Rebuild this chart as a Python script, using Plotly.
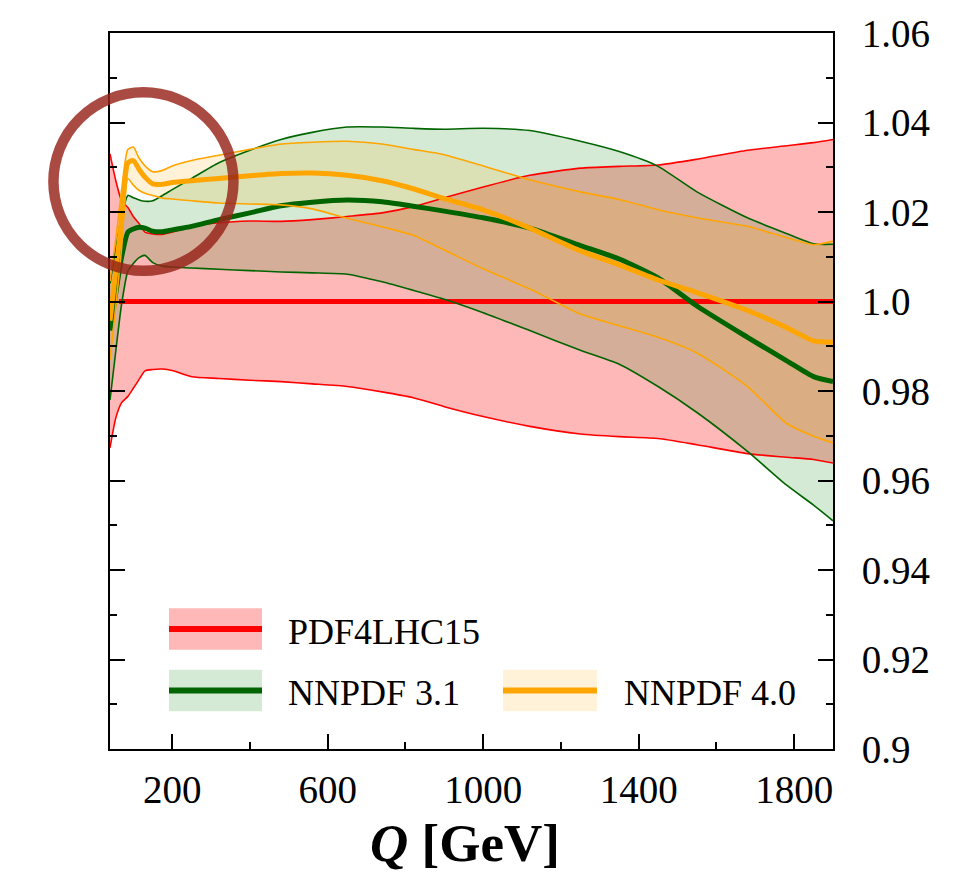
import plotly.graph_objects as go

# ---------------- data ----------------
Q = [40, 55, 70, 86, 100, 115, 130, 150, 175, 200, 250, 320, 400, 480, 560,
     650, 740, 820, 900, 1000, 1120, 1250, 1350, 1450, 1550, 1680, 1780, 1850, 1900]

pdf4lhc_up = [1.033, 1.027, 1.0225, 1.021, 1.019, 1.0174, 1.0155, 1.0151, 1.015, 1.0155,
              1.0167, 1.0176, 1.018, 1.0179, 1.0183, 1.019, 1.0198, 1.0212, 1.0232, 1.0256,
              1.0282, 1.0298, 1.0302, 1.0305, 1.0318, 1.0338, 1.0348, 1.0355, 1.0362]
pdf4lhc_lo = [0.9673, 0.974, 0.9774, 0.9788, 0.9806, 0.9826, 0.9845, 0.9848, 0.9849, 0.9846,
              0.9832, 0.9828, 0.9824, 0.9821, 0.9816, 0.981, 0.9798, 0.9785, 0.9765, 0.9743,
              0.9721, 0.9704, 0.9698, 0.9694, 0.968, 0.966, 0.9652, 0.9647, 0.9639]
pdf4lhc_mid_q = [63, 1900]
pdf4lhc_mid = [1.0, 1.0]

nn31_up = [1.004, 1.012, 1.019, 1.0237, 1.0232, 1.0227, 1.0224, 1.0225, 1.0237, 1.025,
           1.0275, 1.031, 1.0338, 1.0362, 1.0378, 1.039, 1.039, 1.0387, 1.0385, 1.0387,
           1.0382, 1.0358, 1.0335, 1.0302, 1.0245, 1.0187, 1.0152, 1.0129, 1.0128]
nn31_mid = [0.9935, 1.002, 1.01, 1.0155, 1.0162, 1.0166, 1.0164, 1.0157, 1.0156, 1.016,
            1.0168, 1.0183, 1.0198, 1.0214, 1.0222, 1.0227, 1.0223, 1.0213, 1.0202, 1.0187,
            1.0164, 1.0125, 1.0095, 1.0053, 0.999, 0.992, 0.9868, 0.9832, 0.9821]
nn31_lo = [0.978, 0.989, 0.9995, 1.0068, 1.0085, 1.0098, 1.0103, 1.0087, 1.0079, 1.0077,
           1.0075, 1.0072, 1.0069, 1.0066, 1.0064, 1.0061, 1.0044, 1.0025, 1.0005, 0.9975,
           0.9935, 0.9891, 0.986, 0.981, 0.9752, 0.9665, 0.959, 0.9545, 0.951]

nn40_up = [1.0046, 1.014, 1.025, 1.034, 1.0345, 1.032, 1.0303, 1.029, 1.0293, 1.0303,
           1.0315, 1.0327, 1.034, 1.0352, 1.0356, 1.0358, 1.0352, 1.034, 1.0328, 1.0303,
           1.0272, 1.0245, 1.0228, 1.0205, 1.0187, 1.0168, 1.0143, 1.0127, 1.0135]
nn40_mid = [0.9957, 1.0067, 1.0185, 1.031, 1.0315, 1.0295, 1.0278, 1.0263, 1.0262, 1.0266,
            1.027, 1.0275, 1.0281, 1.0286, 1.0287, 1.0282, 1.027, 1.0252, 1.023, 1.0205,
            1.0164, 1.0113, 1.0082, 1.0048, 1.002, 0.998, 0.9942, 0.9912, 0.9909]
nn40_lo = [0.987, 0.999, 1.012, 1.0275, 1.026, 1.0248, 1.0242, 1.0237, 1.0231, 1.0229,
           1.0225, 1.022, 1.0218, 1.0216, 1.0207, 1.0186, 1.0167, 1.0148, 1.0115, 1.0073,
           1.0028, 0.9972, 0.9946, 0.992, 0.9885, 0.981, 0.9728, 0.9699, 0.9684]

series_names = ["PDF4LHC15", "NNPDF 3.1", "NNPDF 4.0"]
x_tickvals = [200, 600, 1000, 1400, 1800]
x_minor = [400, 800, 1200, 1600]
y_tickvals = [0.9, 0.92, 0.94, 0.96, 0.98, 1.0, 1.02, 1.04, 1.06]
y_ticktext = ["0.9", "0.92", "0.94", "0.96", "0.98", "1.0", "1.02", "1.04", "1.06"]
highlight_q, highlight_r = 126, 1.0268

# ---------------- styling ----------------
W, H = 958, 879
ML, MR, MT, MB = 110, 125, 27, 130
PW, PH = W - ML - MR, H - MT - MB
X_RANGE = [40, 1900]
Y_RANGE = [0.9, 1.06]
FONT = "Liberation Serif"

line_cols = ["#ff0000", "#006400", "#ffa500"]
fill_cols = ["rgba(255,0,0,0.28)", "rgba(0,128,0,0.165)", "rgba(255,165,0,0.15)"]
SM = 0.6

def px_x(px):
    return (px - ML) / PW

def px_y(py):
    return (H - MB - py) / PH

def data_to_px(q, r):
    px = ML + (q - X_RANGE[0]) / (X_RANGE[1] - X_RANGE[0]) * PW
    py = MT + (Y_RANGE[1] - r) / (Y_RANGE[1] - Y_RANGE[0]) * PH
    return px, py

fig = go.Figure()

bands = [(pdf4lhc_lo, pdf4lhc_up), (nn31_lo, nn31_up), (nn40_lo, nn40_up)]
for (lo, up), fc in zip(bands, fill_cols):
    fig.add_trace(go.Scatter(x=Q, y=lo, mode="lines", showlegend=False, hoverinfo="skip",
                             line=dict(width=0, shape="spline", smoothing=SM)))
    fig.add_trace(go.Scatter(x=Q, y=up, mode="lines", showlegend=False, hoverinfo="skip",
                             fill="tonexty", fillcolor=fc,
                             line=dict(width=0, shape="spline", smoothing=SM)))

mids = [(pdf4lhc_mid_q, pdf4lhc_mid), (Q, nn31_mid), (Q, nn40_mid)]
for (lo, up), (mq, mv), col, name in zip(bands, mids, line_cols, series_names):
    for edge in (lo, up):
        fig.add_trace(go.Scatter(x=Q, y=edge, mode="lines", showlegend=False,
                                 line=dict(color=col, width=1.6, shape="spline", smoothing=SM)))
    fig.add_trace(go.Scatter(x=mq, y=mv, mode="lines", name=name, showlegend=False,
                             line=dict(color=col, width=5, shape="spline", smoothing=SM)))

shapes = []
annotations = []
# custom legend
legend_pos = [(169, 262, 607, 649, 286), (169, 262, 669, 711, 286), (503, 597, 669, 711, 622)]
for (x0, x1, y0, y1, tx), lc, fc, name in zip(legend_pos, line_cols, fill_cols, series_names):
    shapes.append(dict(type="rect", xref="paper", yref="paper", x0=px_x(x0), x1=px_x(x1),
                       y0=px_y(y1), y1=px_y(y0), fillcolor=fc, line=dict(width=0)))
    ym = (y0 + y1) / 2
    shapes.append(dict(type="line", xref="paper", yref="paper", x0=px_x(x0), x1=px_x(x1),
                       y0=px_y(ym), y1=px_y(ym), line=dict(color=lc, width=6)))
    annotations.append(dict(xref="paper", yref="paper", x=px_x(tx), y=px_y(ym + 3),
                            xanchor="left", yanchor="middle", showarrow=False, text=name,
                            font=dict(family=FONT, size=36, color="black")))

# highlight ring
cx, cy = data_to_px(highlight_q, highlight_r)
R = 90
shapes.append(dict(type="circle", xref="paper", yref="paper", layer="above",
                   x0=px_x(cx - R), x1=px_x(cx + R), y0=px_y(cy + R), y1=px_y(cy - R),
                   line=dict(color="rgba(150,35,25,0.82)", width=10.5)))

# axis title
annotations.append(dict(xref="paper", yref="paper", x=px_x(465), y=px_y(844),
                        xanchor="center", yanchor="middle", showarrow=False,
                        text="<b><i>Q</i> [GeV]</b>",
                        font=dict(family=FONT, size=53, color="black")))

fig.update_layout(
    width=W, height=H,
    margin=dict(l=ML, r=MR, t=MT, b=MB, pad=0),
    paper_bgcolor="white", plot_bgcolor="white",
    font=dict(family=FONT, size=39, color="black"),
    shapes=shapes, annotations=annotations, showlegend=False,
)
fig.update_xaxes(
    range=X_RANGE, tickmode="array", tickvals=x_tickvals,
    ticks="inside", ticklen=15, tickwidth=1.6, tickcolor="black",
    minor=dict(tickmode="array", tickvals=x_minor, ticks="inside", ticklen=7,
               tickwidth=1.6, tickcolor="black", showgrid=False),
    showline=True, linecolor="black", linewidth=2, mirror=True,
    showgrid=False, zeroline=False, ticklabelstandoff=5,
    tickfont=dict(family=FONT, size=39, color="black"),
)
fig.update_yaxes(
    range=Y_RANGE, side="right", tickmode="array", tickvals=y_tickvals, ticktext=y_ticktext,
    ticks="inside", ticklen=15, tickwidth=1.6, tickcolor="black",
    minor=dict(dtick=0.01, tick0=0.9, ticks="inside", ticklen=7,
               tickwidth=1.6, tickcolor="black", showgrid=False),
    showline=True, linecolor="black", linewidth=2, mirror="ticks",
    showgrid=False, zeroline=False, ticklabelstandoff=19,
    tickfont=dict(family=FONT, size=39, color="black"),
)

fig.write_html("out.html")
